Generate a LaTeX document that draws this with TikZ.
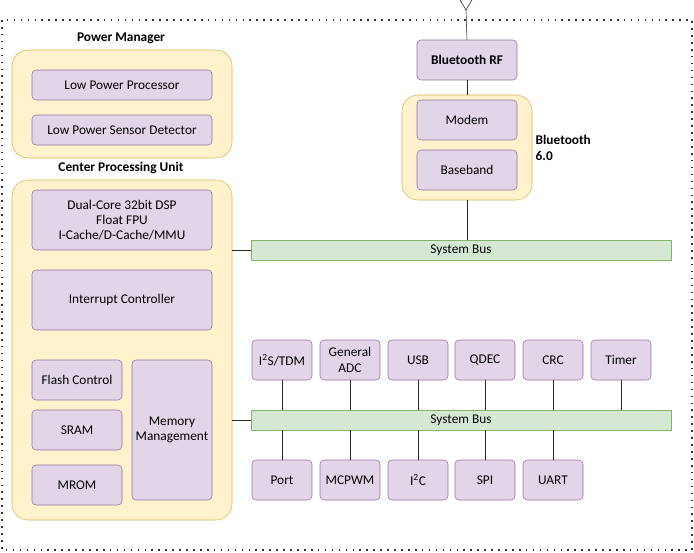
\documentclass[tikz,border=0pt]{standalone}
\usepackage{fontspec}
\setmainfont{Carlito}
\definecolor{pf}{HTML}{E1D5E7}\definecolor{pd}{HTML}{9673A6}
\definecolor{yf}{HTML}{FFF2CC}\definecolor{yd}{HTML}{D6B656}
\definecolor{gf}{HTML}{D5E8D4}\definecolor{gd}{HTML}{82B366}
\begin{document}
\begin{tikzpicture}[x=0.75pt,y=-0.75pt,
 pbox/.style={draw=pd,fill=pf,rounded corners=3pt,align=center,font=\fontsize{10}{11.5}\selectfont},
 ybox/.style={draw=yd,fill=yf,rounded corners=12pt},
 bus/.style={draw=gd,fill=gf,font=\fontsize{10}{11.5}\selectfont},
 ttl/.style={font=\bfseries\fontsize{10}{11.5}\selectfont},
 conn/.style={draw=black!85}]
\useasboundingbox (0,0) rectangle (694,553);
\draw[line width=1.2pt,black!80,dash pattern=on 1.2pt off 4pt] (2,20) rectangle (692,550);
% antenna
\coordinate (ant) at (466,10);
\draw[conn] (460,0) -- (ant) -- (472,0);
% power manager
\node[ttl] (pmt) at (121,38) {Power Manager};
\path[ybox] (12,50) rectangle (232,158);
\path[pbox] (32,70) rectangle node (lpp) {Low Power Processor} (212,100);
\path[pbox] (32,115) rectangle node (lps) {Low Power Sensor Detector} (212,145);
% cpu
\node[ttl] (cput) at (121,168) {Center Processing Unit};
\path[ybox] (12,180) rectangle (232,520);
\coordinate (cpuA) at (232,250); \coordinate (cpuB) at (232,420);
\path[pbox] (32,190) rectangle node (dsp) {Dual-Core 32bit DSP\\Float FPU\\I-Cache/D-Cache/MMU} (212,250);
\path[pbox] (32,270) rectangle node (intc) {Interrupt Controller} (212,330);
\path[pbox] (32,360) rectangle node (flash) {Flash Control} (122,400);
\path[pbox] (32,410) rectangle node (sram) {SRAM} (122,450);
\path[pbox] (32,465) rectangle node (mrom) {MROM} (122,505);
\path[pbox] (132,360) rectangle node (mm) {Memory\\Management} (212,500);
% bluetooth
\node[pbox,font=\bfseries\fontsize{10}{11.5}\selectfont,minimum width=75pt,minimum height=30pt] (rf) at (467,60) {Bluetooth RF};
\node[ybox,minimum width=97.5pt,minimum height=78.75pt] (bt) at (467,147.5) {};
\node[pbox,minimum width=75pt,minimum height=30pt] (modem) at (467,120) {Modem};
\node[pbox,minimum width=75pt,minimum height=30pt] (bb) at (467,170) {Baseband};
\node[ttl,align=left,anchor=west] (btl) at (531,148) {Bluetooth\\6.0};
% buses
\node[bus,minimum width=315pt,minimum height=15pt] (bus1) at (461,250) {System Bus};
\node[bus,minimum width=315pt,minimum height=15pt] (bus2) at (461,420) {System Bus};
\draw[conn] (ant) -- (rf.north);
\draw[conn] (rf) -- (bt);
\draw[conn] (bt.south) -- (bt.south |- bus1.north);
\draw[conn] (cpuA) -- (bus1.west);
\draw[conn] (cpuB) -- (bus2.west);
% peripherals
\foreach \n/\x/\t in {i2s/282/{I\textsuperscript{2}S/TDM},adc/350/{General\\ADC},usb/418/USB,qdec/485/QDEC,crc/553/CRC,tmr/621/Timer}{
  \node[pbox,minimum width=45pt,minimum height=30pt] (\n) at (\x,360) {\t};
  \draw[conn] (\n.south) -- (\n.south |- bus2.north);}
\foreach \n/\x/\t in {port/282/Port,pwm/350/MCPWM,i2c/418/{I\textsuperscript{2}C},spi/485/SPI,uart/553/UART}{
  \node[pbox,minimum width=45pt,minimum height=30pt] (\n) at (\x,480) {\t};
  \draw[conn] (\n.north) -- (\n.north |- bus2.south);}
\end{tikzpicture}
\end{document}
